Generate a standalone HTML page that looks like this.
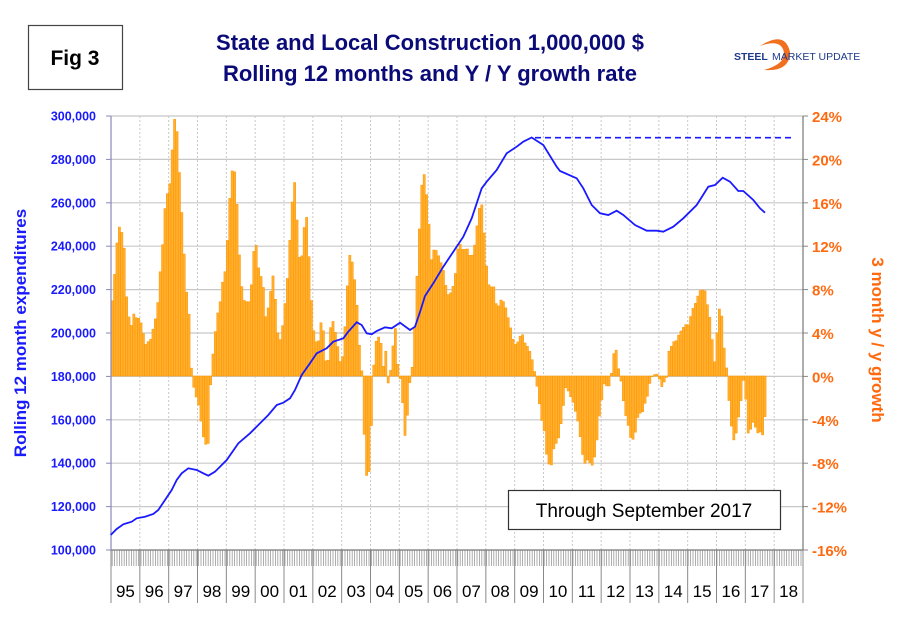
<!DOCTYPE html>
<html><head><meta charset="utf-8"><style>
html,body{margin:0;padding:0;background:#fff;}
svg{display:block;font-family:"Liberation Sans",Arial,sans-serif;}
</style></head><body>
<svg id="s" width="909" height="622" viewBox="0 0 909 622" xmlns="http://www.w3.org/2000/svg">
<rect x="0" y="0" width="909" height="622" fill="#fff"/>
<g id="grid"></g>
<g id="bars"></g>
<g id="axes"></g>
<polyline id="line" fill="none" stroke="#1a1aff" stroke-width="1.8"/>
<line x1="535" y1="137.7" x2="794" y2="137.7" stroke="#1a1aff" stroke-width="1.6" stroke-dasharray="6,4"/>
<rect x="28.5" y="25.5" width="94" height="64" fill="#fff" stroke="#444" stroke-width="1.2"/>
<text x="75" y="65" font-size="21" font-weight="bold" text-anchor="middle" fill="#000">Fig 3</text>
<text x="430" y="50" font-size="22" font-weight="bold" text-anchor="middle" fill="#0a0a78">State and Local Construction 1,000,000 $</text>
<text x="430" y="81" font-size="22" font-weight="bold" text-anchor="middle" fill="#0a0a78">Rolling 12 months and Y / Y growth rate</text>
<path d="M760 46 Q785 30 790 52 Q790 72 764 70 Q785 64 784 53 Q782 38 760 46Z" fill="#f07020"/>
<text x="734" y="60" font-size="10.5" font-weight="bold" fill="#1e3a8a">STEEL</text>
<text x="772" y="60" font-size="10.5" fill="#1e3a8a">MARKET UPDATE</text>
<text transform="translate(26,333) rotate(-90)" font-size="17" font-weight="bold" text-anchor="middle" fill="#1a1aff">Rolling 12 month expenditures</text>
<text transform="translate(872,340) rotate(90)" font-size="17" font-weight="bold" text-anchor="middle" fill="#ff6a10">3 month y / y growth</text>
<rect x="508.5" y="490.5" width="272" height="39" fill="#fff" stroke="#333" stroke-width="1.2"/>
<text x="644" y="517" font-size="19" text-anchor="middle" fill="#000">Through September 2017</text>
</svg>
<script>
(function(){
var NS="http://www.w3.org/2000/svg";
function el(p,t,a,txt){var e=document.createElementNS(NS,t);for(var k in a)e.setAttribute(k,a[k]);if(txt!==undefined)e.textContent=txt;p.appendChild(e);return e;}
var L=111,R=803,T=116,B=550,yw=(R-L)/24;
var grid=document.getElementById('grid'),axes=document.getElementById('axes'),bars=document.getElementById('bars');
var lv=["300,000","280,000","260,000","240,000","220,000","200,000","180,000","160,000","140,000","120,000","100,000"];
var rv=["24%","20%","16%","12%","8%","4%","0%","-4%","-8%","-12%","-16%"];
for(var i=0;i<11;i++){var y=T+i*43.4;
 if(i<10)el(grid,'line',{x1:L,x2:R,y1:y,y2:y,stroke:'#c8c8c8','stroke-width':1.2});
 el(axes,'line',{x1:L-5,x2:L,y1:y,y2:y,stroke:'#8888bb'});
 el(axes,'line',{x1:R,x2:R+5,y1:y,y2:y,stroke:'#888'});
 el(axes,'text',{x:96,y:y+4.5,'font-size':12.5,'font-weight':'bold','text-anchor':'end',fill:'#1a1aff'},lv[i]);
 el(axes,'text',{x:812,y:y+6,'font-size':15,'font-weight':'bold',fill:'#ff6a10'},rv[i]);
}
var yrs=["95","96","97","98","99","00","01","02","03","04","05","06","07","08","09","10","11","12","13","14","15","16","17","18"];
for(var k=0;k<=24;k++){var x=L+k*yw;
 if(k>0&&k<24)el(grid,'line',{x1:x,x2:x,y1:T,y2:B,stroke:'#c8c8c8','stroke-dasharray':'2,2'});
 el(axes,'line',{x1:x,x2:x,y1:B,y2:603,stroke:'#888'});
 if(k<24)el(axes,'text',{x:x+yw/2,y:597,'font-size':17,'text-anchor':'middle',fill:'#000'},yrs[k]);
}
for(var m=0;m<288;m++){var x=L+m*2.4+1.2;el(axes,'line',{x1:x,x2:x,y1:B,y2:566,stroke:'#999','stroke-width':0.8});}
el(axes,'line',{x1:L,x2:R,y1:B,y2:B,stroke:'#777','stroke-width':1.2});
el(axes,'line',{x1:L,x2:L,y1:T,y2:B,stroke:'#8888bb','stroke-width':1.2});
el(axes,'line',{x1:R,x2:R,y1:T,y2:B,stroke:'#777','stroke-width':1.2});
var pts=[];
function add(ox,oy,arr){for(var i=0;i<arr.length;i+=2)pts.push([ox+arr[i]/3,oy+arr[i+1]/3]);}
add(110,110,[5,590,15,480,25,345,35,365,42,400,48,545,55,605,62,660,70,610,80,625,90,625,100,670,110,715,118,680,125,695,133,620,140,635,148,500,155,460,162,320,170,255,178,240,185,145,192,35,198,12,205,135,212,250,220,385,228,530,240,640,245,800,255,850,265,880,280,980,288,1005,295,1000,300,855,305,770,315,675,322,615,330,580,338,515,345,485,352,395,358,285,365,185,372,175,378,210,385,380,392,500,400,570,410,575,415,585,422,550,428,480,435,365,442,445,450,505,458,490,465,625,472,610,480,560,488,490,495,545,500,640,507,700,515,675,522,605,530,540,537,430,545,300,552,195,558,270,565,410,572,480,580,380,588,295,595,400,602,540,610,655,618,695,625,700,632,635,640,660,648,760,655,750,662,650,668,630,675,660,682,700,690,755,697,750,705,650,715,480,722,410,730,490,738,530,745,660,752,760,758,800,762,960,768,1090,775,1115,782,1010,790,780,798,695,805,680,812,690,820,770,828,720,835,825,842,780,848,720,855,635,862,755,870,800,878,880,883,985,890,955,897,830,903,800,910,745,918,550,925,430,932,270,940,165,945,220,952,295]);
add(420,140,[10,75,18,130,25,205,32,370,40,330,48,330,55,345,62,365,70,390,78,440,85,465,95,455,105,415,112,330,122,310,130,335,140,320,148,345,155,350,162,330,170,265,178,205,185,190,192,270,198,360,205,430,212,445,220,430,228,490,235,500,242,480,248,480,255,495,262,520,268,550,275,575,282,615,290,610,298,600,305,570,312,605,320,615,328,630,335,650,342,690,348,705,352,750,358,790,365,840,372,865,378,935,385,965,392,990,400,935,405,905,412,915,420,870,428,820,435,745,442,740,448,770,455,770,462,800,468,820,475,850,482,900,488,945,495,970,502,960,508,965,515,980,522,960,528,930,535,860,542,790]);
add(600,270,[4,405,10,340,18,345,25,355,32,330,38,275,45,225,52,255,58,320,62,325,68,375,75,430,82,450,90,500,98,510,105,495,112,445,120,430,128,425,135,400,142,380,148,345,155,322,162,315,170,310,175,322,180,330,185,350,190,348,195,325,200,322,205,245,212,240,218,210,225,220,232,205,240,185,248,180,255,155,262,180,268,145,275,135,282,100,290,100,297,55,305,70,312,45,318,80,325,120,332,155,338,225,343,285,348,225,355,140,362,90,368,175,375,265,380,295,386,380,392,450,398,500,405,520,412,460,420,420,428,345,432,320,438,395,442,500,448,475,455,480,462,440,468,485,475,490,482,485,488,495,495,440]);
pts.sort(function(a,b){return a[0]-b[0];});
function interp(x){if(x<=pts[0][0])return pts[0][1];for(var i=1;i<pts.length;i++){if(pts[i][0]>=x){var a=pts[i-1],b=pts[i];var t=(x-a[0])/((b[0]-a[0])||1);return a[1]+t*(b[1]-a[1]);}}return pts[pts.length-1][1];}
var Z=376;
for(var m=0;m<273;m++){var cx=L+m*2.4+1.2;var by=interp(cx);var ty=Math.min(by,Z),h=Math.abs(by-Z);if(h<0.5)continue;
 el(bars,'rect',{x:cx-1.1,y:ty,width:2.2,height:h,fill:'#ffb030',stroke:'#ff9500','stroke-width':0.5});}
var lp=[[110.7,535],[116.7,529],[123.3,524.3],[131.7,521.7],[136.7,518.3],[145,516.7],[153.3,514],[158.3,510],[165,500],[171.7,490],[176.7,480],[181.7,473.3],[188.3,468.3],[196.7,470],[203.3,473.3],[208.3,475.7],[215,471.7],[226.7,460],[238.3,443.3],[250,433.3],[258.3,425],[268.3,415],[276.7,405],[283.3,402.7],[290,398.3],[295,390],[301.7,375],[310,363.3],[316.7,353.3],[326.7,348.3],[333.3,341.7],[343.3,338.3],[348.3,331.7],[356.7,322.3],[361.7,325],[366.7,333.3],[371.7,334.3],[376.7,331],[385,327.3],[391.7,328.3],[400,322.7],[410,330],[415,326.7],[420,312],[425,296],[433.3,283.3],[443.3,266.7],[453.3,251.7],[463.3,236.7],[471.7,218.3],[481.7,188.3],[486.7,181.7],[496.7,170],[506.7,153.3],[516.7,146.7],[523.3,141.7],[531.7,137.5],[543.3,145],[556.7,166.7],[560,171],[576.7,178.3],[583.3,188.3],[591.7,205],[600,213.3],[608.3,215],[616.7,210.7],[623.3,215],[635,225],[646.7,230.7],[656.7,230.7],[663.3,231.7],[673.3,226.7],[683.3,218.3],[696.7,205],[708.3,186.7],[715,185],[722.7,177.7],[730,181.7],[738.3,191],[743.3,191],[753.3,200],[760,208.3],[765,212.7]];
document.getElementById('line').setAttribute('points',lp.map(function(p){return p[0]+','+p[1];}).join(' '));
})();
</script>
</body></html>
